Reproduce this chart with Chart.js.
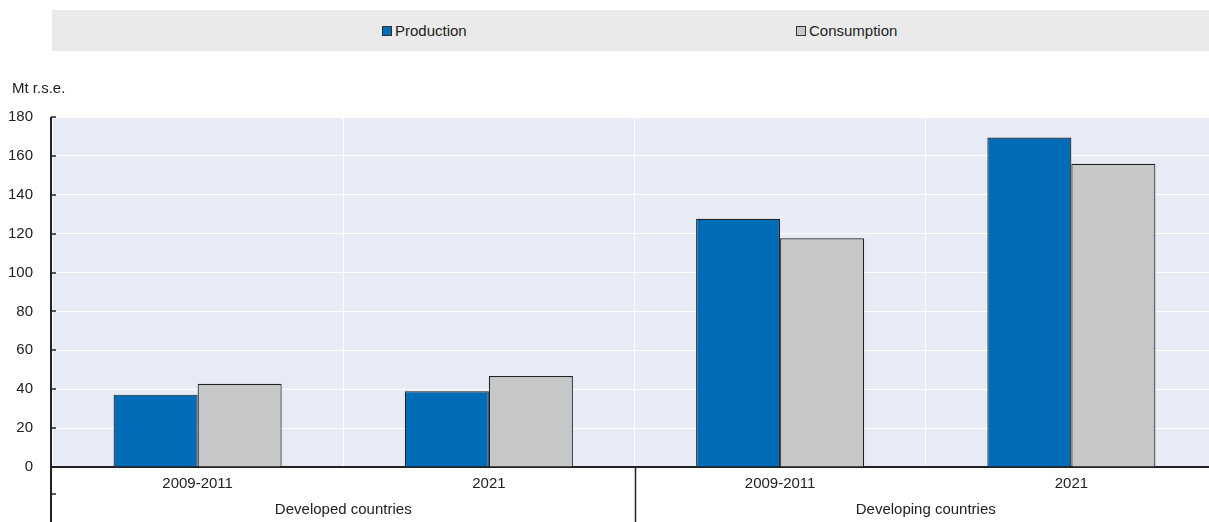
<!DOCTYPE html>
<html>
<head>
<meta charset="utf-8">
<script src="https://cdn.jsdelivr.net/npm/chart.js@4/dist/chart.umd.min.js"></script>
<style>
  html, body { margin: 0; padding: 0; background: #ffffff; overflow: hidden; width: 1209px; height: 522px; }
  #wrap { position: absolute; left: 0; top: 0; width: 1217px; height: 522px; }
  #legend { position: absolute; left: 52px; top: 10px; width: 1157px; height: 41px; background: #eaeaea;
            font-family: 'Liberation Sans', Arial, sans-serif; font-size: 15px; color: #222; }
  .item { position: absolute; top: 0; height: 41px; line-height: 41px; white-space: nowrap; }
  .swatch { position: absolute; top: 16px; left: 0; width: 8px; height: 8px; border: 1px solid #333; }
  .item span { position: absolute; left: 13px; top: 0; }
</style>
</head>
<body>
<div id="wrap"><canvas id="chart"></canvas></div>
<div id="legend"></div>
<script>
// Sugar production and consumption, million tonnes raw sugar equivalent
const categories = ['2009-2011', '2021', '2009-2011', '2021'];
const groups = ['Developed countries', 'Developing countries'];
const production = [37.2, 38.9, 127.7, 169.4];
const consumption = [42.8, 46.8, 117.6, 155.9];
const seriesNames = ['Production', 'Consumption'];
const seriesColors = ['#006bb6', '#c6c7c9'];
const yMin = 0, yMax = 180, yStep = 20;
const unitLabel = 'Mt r.s.e.';

const FONT = "'Liberation Sans', Arial, sans-serif";
const FONT_SIZE = 15;
const INK = '#222222';

// Legend strip above the plot
const legendPos = [330, 744];
const legend = document.getElementById('legend');
seriesNames.forEach((name, i) => {
  const item = document.createElement('div');
  item.className = 'item';
  item.style.left = legendPos[i] + 'px';
  const sw = document.createElement('div');
  sw.className = 'swatch';
  sw.style.background = seriesColors[i];
  const label = document.createElement('span');
  label.textContent = name;
  item.appendChild(sw);
  item.appendChild(label);
  legend.appendChild(item);
});

// Plot background, axis extensions, inner tick marks and unit label
const decorations = {
  id: 'decorations',
  beforeDraw(chart) {
    const { ctx, chartArea: a } = chart;
    ctx.save();
    ctx.fillStyle = '#e7ebf6';
    ctx.fillRect(a.left, a.top, a.right - a.left, a.bottom - a.top);
    ctx.restore();
  },
  afterDraw(chart) {
    const { ctx, chartArea: a, scales } = chart;
    const x = scales.x, y = scales.y;
    const bottom = chart.height;
    ctx.save();
    ctx.strokeStyle = INK;
    ctx.lineWidth = 2;
    // left axis continues through the label rows
    ctx.beginPath();
    ctx.moveTo(a.left - 1, a.top);
    ctx.lineTo(a.left - 1, bottom);
    ctx.stroke();
    // separator between the two country groups
    const sep = (x.getPixelForValue(1) + x.getPixelForValue(2)) / 2;
    ctx.lineWidth = 1.5;
    ctx.beginPath();
    ctx.moveTo(Math.round(sep) + 0.5, a.bottom);
    ctx.lineTo(Math.round(sep) + 0.5, bottom);
    ctx.stroke();
    // tick marks pointing into the plot
    y.ticks.forEach(t => {
      const py = Math.round(y.getPixelForValue(t.value));
      ctx.beginPath();
      ctx.moveTo(a.left - 1, py);
      ctx.lineTo(a.left + 4, py);
      ctx.stroke();
    });
    const rowSplit = chart.scales.x2.top - 3;
    ctx.beginPath();
    ctx.moveTo(a.left - 1, rowSplit);
    ctx.lineTo(a.left + 4, rowSplit);
    ctx.stroke();
    // unit label
    ctx.fillStyle = INK;
    ctx.font = FONT_SIZE + 'px ' + FONT;
    ctx.textAlign = 'left';
    ctx.textBaseline = 'middle';
    ctx.fillText(unitLabel, 12, 89);
    ctx.restore();
  }
};

const tickFont = { family: FONT, size: FONT_SIZE };

new Chart(document.getElementById('chart'), {
  type: 'bar',
  data: {
    labels: categories,
    datasets: [
      { label: seriesNames[0], data: production, backgroundColor: seriesColors[0],
        borderColor: INK, borderWidth: 1.2, categoryPercentage: 0.577, barPercentage: 1 },
      { label: seriesNames[1], data: consumption, backgroundColor: seriesColors[1],
        borderColor: INK, borderWidth: 1.2, categoryPercentage: 0.577, barPercentage: 1 }
    ]
  },
  options: {
    responsive: true,
    maintainAspectRatio: false,
    animation: false,
    layout: { padding: { top: 117, right: 0, left: 0, bottom: 0 } },
    plugins: { legend: { display: false }, tooltip: { enabled: false } },
    scales: {
      x: {
        position: 'bottom',
        offset: true,
        grid: { offset: true, color: '#ffffff', lineWidth: 1, drawTicks: false },
        border: { display: true, color: INK, width: 2 },
        ticks: { color: INK, font: tickFont, padding: 8, maxRotation: 0 },
        afterFit(s) { s.height = 30; }
      },
      x2: {
        type: 'category',
        position: 'bottom',
        labels: groups,
        offset: true,
        grid: { display: false, drawTicks: false },
        border: { display: false },
        ticks: { color: INK, font: tickFont, padding: 4, maxRotation: 0 },
        afterFit(s) { s.height = 25; }
      },
      y: {
        min: yMin,
        max: yMax,
        ticks: { stepSize: yStep, color: INK, font: tickFont, padding: 19 },
        grid: { color: '#ffffff', lineWidth: 1, drawTicks: false },
        border: { display: false },
        afterFit(s) { s.width = 52; }
      }
    }
  },
  plugins: [decorations]
});
</script>
</body>
</html>
